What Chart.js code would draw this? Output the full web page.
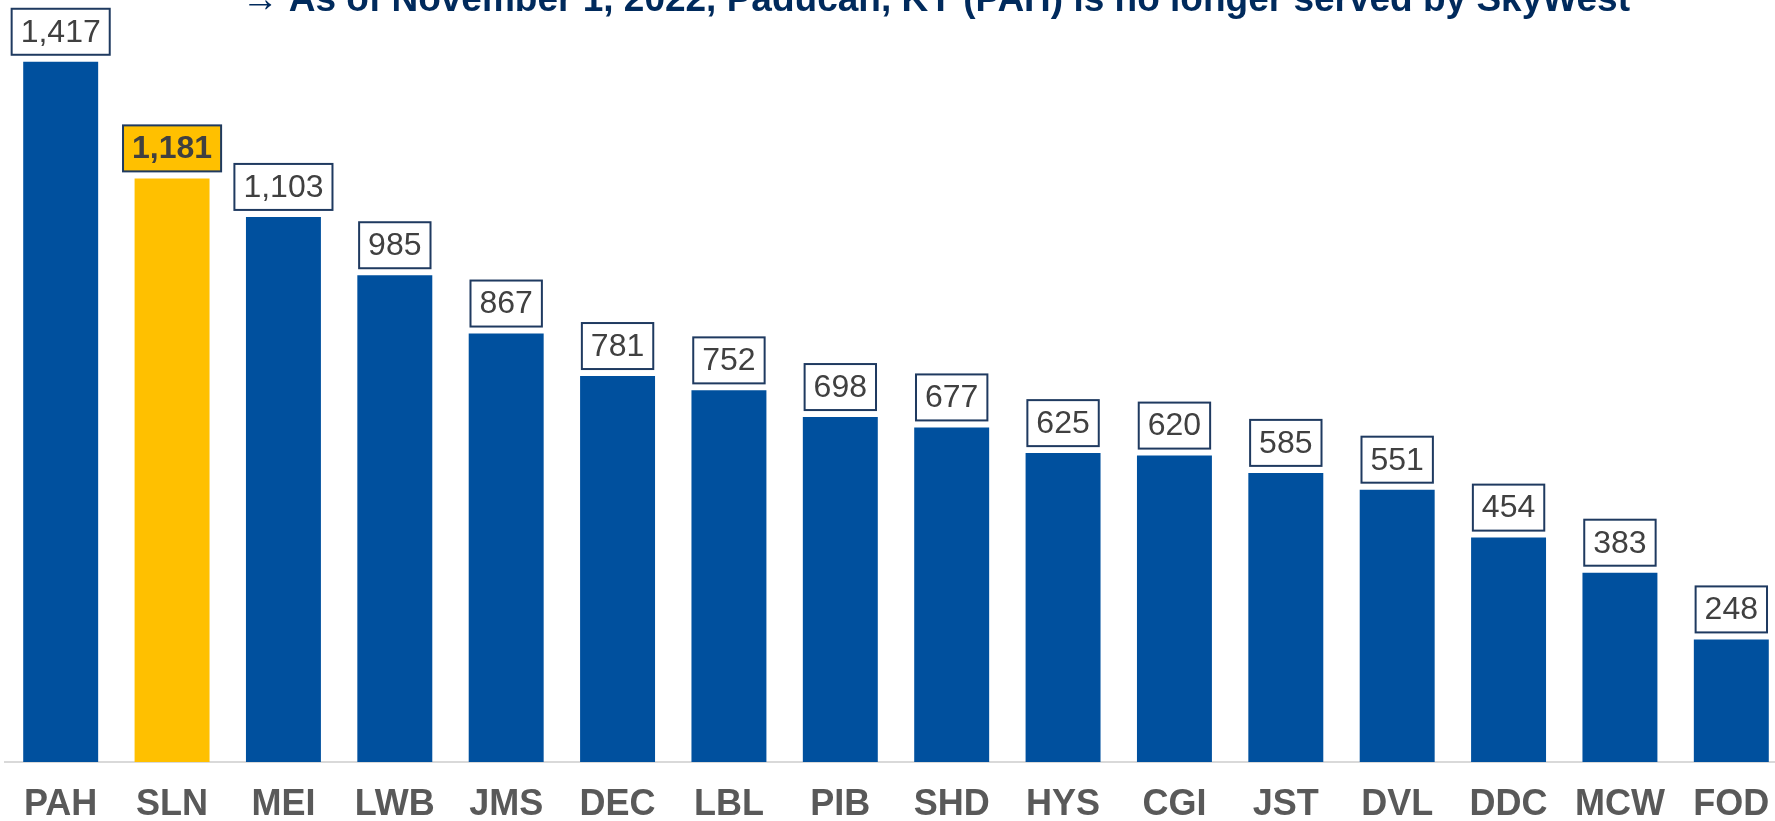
<!DOCTYPE html>
<html>
<head>
<meta charset="utf-8">
<script src="https://cdn.jsdelivr.net/npm/chart.js@4.4.0/dist/chart.umd.min.js"></script>
<style>
    html, body { margin: 0; padding: 0; background: #fff; overflow: hidden; }
</style>
</head>
<body>
<!-- the slide's last category runs a little past the right edge, so the canvas is wider than the window -->
<canvas id="myChart" width="1787" height="821"></canvas>
<script>
// airports and passengers
const airports = ['PAH', 'SLN', 'MEI', 'LWB', 'JMS', 'DEC', 'LBL', 'PIB', 'SHD', 'HYS', 'CGI', 'JST', 'DVL', 'DDC', 'MCW', 'FOD'];
const passengers = [1417, 1181, 1103, 985, 867, 781, 752, 698, 677, 625, 620, 585, 551, 454, 383, 248];
const highlighted = ['SLN'];
const titleText = '\u2192 As of November 1, 2022, Paducah, KY (PAH) is no longer served by SkyWest';

const BLUE = '#00509E';
const GOLD = '#FFC000';
const NAVY = '#1F3A60';
const FONT = '"Liberation Sans", Arial, sans-serif';

const barColors = airports.map((a) => highlighted.includes(a) ? GOLD : BLUE);

// boxed value labels above each bar
const valueBoxes = {
    id: 'valueBoxes',
    afterDatasetsDraw(chart) {
        const ctx = chart.ctx;
        const meta = chart.getDatasetMeta(0);
        ctx.save();
        meta.data.forEach((bar, i) => {
            const hi = highlighted.includes(airports[i]);
            const txt = passengers[i].toLocaleString('en-US');
            ctx.font = (hi ? 'bold ' : '') + '32px ' + FONT;
            const w = ctx.measureText(txt).width + 18;
            const h = 46;
            const x = bar.x - w / 2;
            const y = bar.y - 7 - h;
            ctx.fillStyle = hi ? GOLD : '#fff';
            ctx.fillRect(x, y, w, h);
            ctx.lineWidth = 2;
            ctx.strokeStyle = NAVY;
            ctx.strokeRect(x, y, w, h);
            ctx.fillStyle = '#404040';
            ctx.textAlign = 'center';
            ctx.textBaseline = 'middle';
            ctx.fillText(txt, bar.x, y + h / 2 + 1);
        });
        ctx.restore();
    }
};

// note at the top, partly cut off like the original slide
const topNote = {
    id: 'topNote',
    afterDraw(chart) {
        const ctx = chart.ctx;
        ctx.save();
        ctx.font = 'bold 37px ' + FONT;
        ctx.fillStyle = '#002A5C';
        ctx.textAlign = 'right';
        ctx.textBaseline = 'alphabetic';
        ctx.fillText(titleText, 1630, 11);
        ctx.restore();
    }
};

const config = {
    type: 'bar',
    data: {
        labels: airports,
        datasets: [{
            data: passengers,
            backgroundColor: barColors,
            borderWidth: 0,
            barPercentage: 0.673,
            categoryPercentage: 1
        }]
    },
    options: {
        responsive: false,
        animation: false,
        devicePixelRatio: 1,
        layout: { padding: { left: 5, right: 0, top: 0, bottom: -27 } },
        plugins: {
            legend: { display: false },
            tooltip: { enabled: false },
            title: { display: false }
        },
        scales: {
            x: {
                grid: { display: false, drawTicks: false },
                border: { display: true, color: '#D9D9D9', width: 2 },
                ticks: {
                    color: '#595959',
                    padding: 0,
                    font: { family: FONT, size: 36, weight: 'bold', lineHeight: 2.39 }
                }
            },
            y: {
                display: false,
                min: 0,
                max: 1542
            }
        }
    },
    plugins: [valueBoxes, topNote]
};

const myChart = new Chart(document.getElementById('myChart'), config);
</script>
</body>
</html>
